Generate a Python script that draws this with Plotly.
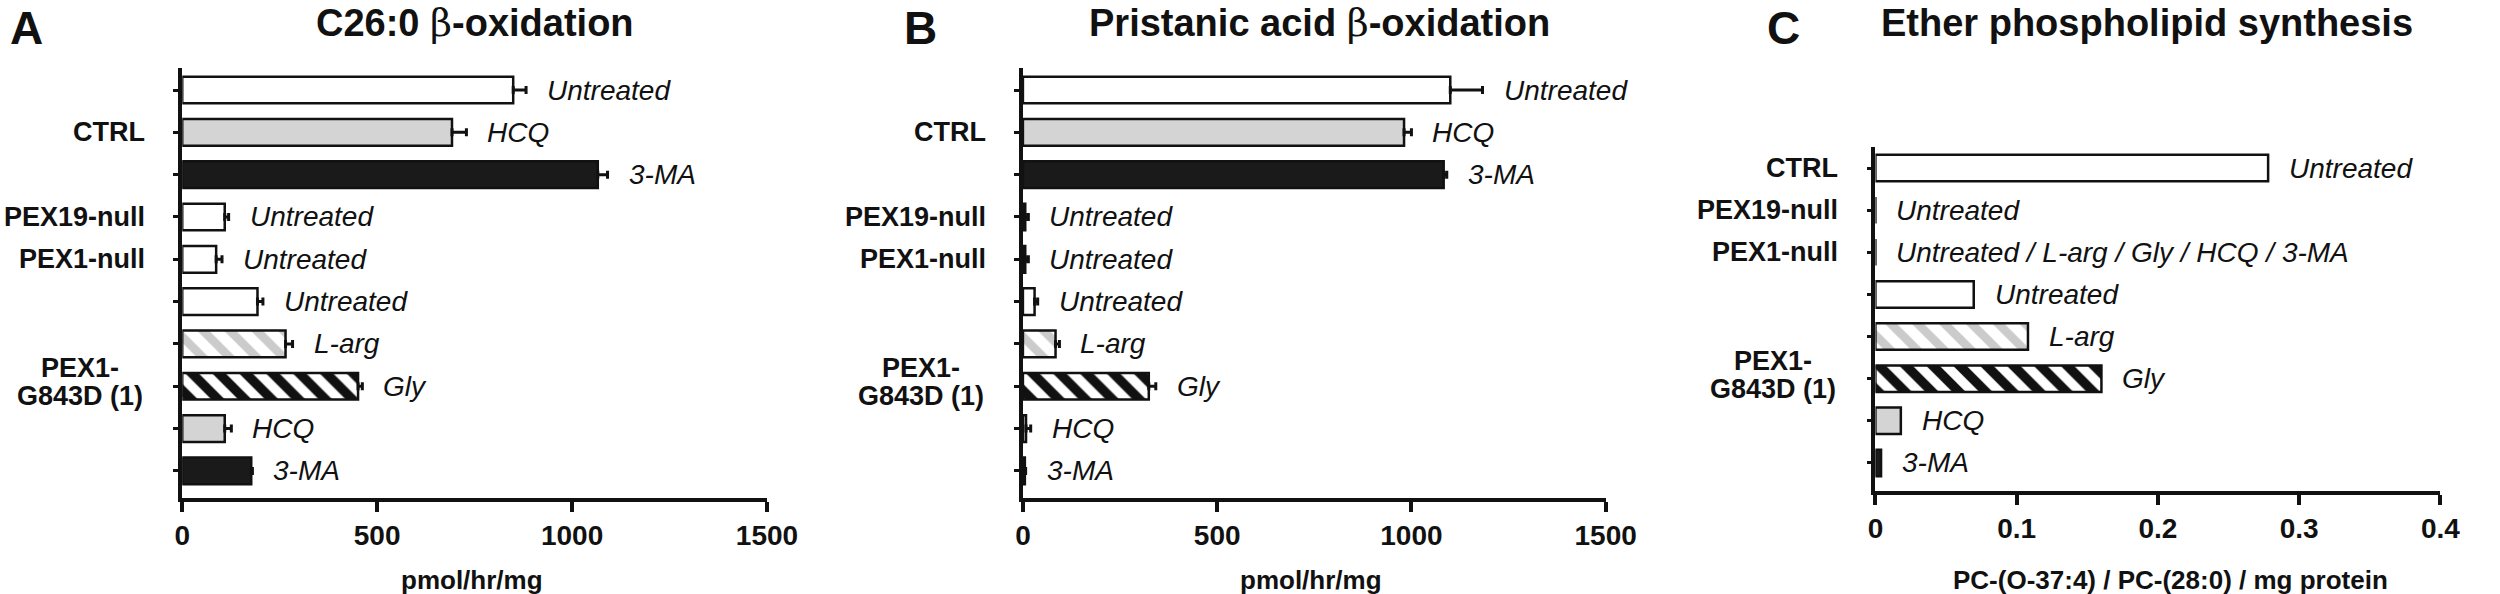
import plotly.graph_objects as go

# ---------------- data ----------------
groups_AB = ["CTRL", "CTRL", "CTRL", "PEX19-null", "PEX1-null",
             "PEX1-G843D (1)", "PEX1-G843D (1)", "PEX1-G843D (1)", "PEX1-G843D (1)", "PEX1-G843D (1)"]
treatments_AB = ["Untreated", "HCQ", "3-MA", "Untreated", "Untreated",
                 "Untreated", "L-arg", "Gly", "HCQ", "3-MA"]
c26_values = [849, 692, 1066, 109, 87, 193, 265, 451, 109, 177]
c26_errors = [33, 37, 25, 10, 15, 14, 18, 11, 17, 3]
pristanic_values = [1100, 981, 1083, 6, 6, 30, 84, 324, 8, 5]
pristanic_errors = [83, 19, 8, 8, 8, 8, 10, 18, 12, 2]

groups_C = ["CTRL", "PEX19-null", "PEX1-null",
            "PEX1-G843D (1)", "PEX1-G843D (1)", "PEX1-G843D (1)", "PEX1-G843D (1)", "PEX1-G843D (1)"]
treatments_C = ["Untreated", "Untreated", "Untreated / L-arg / Gly / HCQ / 3-MA",
                "Untreated", "L-arg", "Gly", "HCQ", "3-MA"]
ether_values = [0.278, 0, 0, 0.0696, 0.108, 0.160, 0.018, 0.004]

ticks_AB = [0, 500, 1000, 1500]
ticklabels_AB = ["0", "500", "1000", "1500"]
ticks_C = [0, 0.1, 0.2, 0.3, 0.4]
ticklabels_C = ["0", "0.1", "0.2", "0.3", "0.4"]

titles = ["C26:0 β-oxidation", "Pristanic acid β-oxidation", "Ether phospholipid synthesis"]
panel_letters = ["A", "B", "C"]
axis_titles = ["pmol/hr/mg", "pmol/hr/mg", "PC-(O-37:4) / PC-(28:0) / mg protein"]
group_label_lines = {"PEX1-G843D (1)": ["PEX1-", "G843D (1)"]}

# ---------------- styles ----------------
W, H = 2500, 594
FONT = "Liberation Sans, Arial, Helvetica, sans-serif"
BLACK = "#111111"
GRAY = "#d4d4d4"
LIGHT_STRIPE = "#cbcbcb"

style = {  # treatment -> (fill, pattern shape, pattern colour, solidity)
    "Untreated": ("white", "", BLACK, 0.3),
    "HCQ": (GRAY, "", BLACK, 0.3),
    "3-MA": ("#1a1a1a", "", BLACK, 0.3),
    "L-arg": ("white", "\\", LIGHT_STRIPE, 0.45),
    "Gly": ("white", "\\", BLACK, 0.5),
}
DEFAULT_STYLE = ("white", "", BLACK, 0.3)

def px_x(p):
    return p / W

def px_y(p):
    return 1 - p / H

panels = [
    dict(groups=groups_AB, treats=treatments_AB, vals=c26_values, errs=c26_errors,
         xr=[0, 1500], ticks=ticks_AB, tl=ticklabels_AB, xdom=(177, 771), ydom=(68, 498),
         yr=[9.64, -0.52], title_x=474, letter_x=0),
    dict(groups=groups_AB, treats=treatments_AB, vals=pristanic_values, errs=pristanic_errors,
         xr=[0, 1500], ticks=ticks_AB, tl=ticklabels_AB, xdom=(1031, 1623), ydom=(68, 498),
         yr=[9.64, -0.52], title_x=1332, letter_x=908),
    dict(groups=groups_C, treats=treatments_C, vals=ether_values, errs=None,
         xr=[0, 0.4], ticks=ticks_C, tl=ticklabels_C, xdom=(1897, 2471), ydom=(147, 491),
         yr=[7.665, -0.5], title_x=2173, letter_x=1785),
]

fig = go.Figure()
annotations = []
shapes = []

for i, p in enumerate(panels):
    n = i + 1
    xa = "x" if n == 1 else f"x{n}"
    ya = "y" if n == 1 else f"y{n}"
    keys = [f"{g} | {t}" for g, t in zip(p["groups"], p["treats"])]

    # one trace per bar style so that the hatch patterns are scalar
    style_names = []
    for t in p["treats"]:
        s = t if t in style else "_default"
        if s not in style_names:
            style_names.append(s)
    for s in style_names:
        fill, shp, fgc, sol = style.get(s, DEFAULT_STYLE)
        sel = [k for k, t in enumerate(p["treats"]) if (t if t in style else "_default") == s]
        err = None
        if p["errs"] is not None:
            err = dict(type="data", array=[p["errs"][k] for k in sel],
                       arrayminus=[0] * len(sel), symmetric=False, color=BLACK,
                       thickness=3, width=4, visible=True)
        marker = dict(color=fill, line=dict(color=BLACK, width=2.5))
        if shp:
            marker["pattern"] = dict(shape=shp, fgcolor=fgc, bgcolor="white",
                                     size=19, solidity=sol, fillmode="replace")
        fig.add_trace(go.Bar(
            x=[p["vals"][k] for k in sel], y=[keys[k] for k in sel], orientation="h",
            xaxis=xa, yaxis=ya, width=0.63, marker=marker, error_x=err,
            showlegend=False, name=s, hoverinfo="x+y",
        ))

    axis_font = dict(family=FONT, size=28, color=BLACK, weight="bold")
    fig.update_layout(**{
        ("xaxis" if n == 1 else f"xaxis{n}"): dict(
            domain=[px_x(p["xdom"][0]), px_x(p["xdom"][1])], anchor=ya,
            range=p["xr"], tickvals=p["ticks"], ticktext=p["tl"], ticks="outside",
            ticklen=10, tickwidth=3.5, tickcolor=BLACK, showline=True, linewidth=3.5,
            linecolor=BLACK, showgrid=False, zeroline=False, tickfont=axis_font,
            fixedrange=True),
        ("yaxis" if n == 1 else f"yaxis{n}"): dict(
            domain=[px_y(p["ydom"][1]), px_y(p["ydom"][0])], anchor=xa,
            type="category", categoryorder="array", categoryarray=keys,
            range=p["yr"], showticklabels=False, ticks="outside", ticklen=5,
            tickwidth=2.5, tickcolor=BLACK, showline=True, linewidth=3.5,
            linecolor=BLACK, showgrid=False, zeroline=False, fixedrange=True),
    })

    # bar labels
    for k, (key, t, v) in enumerate(zip(keys, p["treats"], p["vals"])):
        e = p["errs"][k] if p["errs"] is not None else 0
        annotations.append(dict(
            x=v + e, y=key, xref=xa, yref=ya, text=t, showarrow=False,
            xanchor="left", yanchor="middle", xshift=19,
            font=dict(family=FONT, size=28, color=BLACK, style="italic")))

    # group labels and brackets
    order = []
    for g in p["groups"]:
        if g not in order:
            order.append(g)
    for g in order:
        idx = [k for k, gg in enumerate(p["groups"]) if gg == g]
        mid_key = keys[idx[len(idx) // 2]]
        lines = group_label_lines.get(g)
        if lines:
            for line, ys in zip(lines, [18, -10]):
                annotations.append(dict(
                    x=0, y=mid_key, xref=f"{xa} domain", yref=ya, text=line,
                    showarrow=False, xanchor="center", yanchor="middle",
                    xshift=-102, yshift=ys,
                    font=dict(family=FONT, size=27, color=BLACK, weight="bold")))
        else:
            annotations.append(dict(
                x=0, y=mid_key, xref=f"{xa} domain", yref=ya, text=g,
                showarrow=False, xanchor="right", yanchor="middle", xshift=-35,
                font=dict(family=FONT, size=27, color=BLACK, weight="bold")))
        # bracket (panel C has no bracket for the single CTRL row)
        if i == 2 and g == "CTRL":
            continue
        y0 = idx[0] - 0.44
        y1 = idx[-1] + 0.46
        common = dict(type="line", xref=xa, yref=ya, xsizemode="pixel", xanchor=0,
                      line=dict(color=BLACK, width=2))
        shapes.append(dict(x0=-18, x1=-18, y0=y0, y1=y1, **common))
        shapes.append(dict(x0=-18, x1=-8, y0=y0, y1=y0, **common))
        shapes.append(dict(x0=-18, x1=-8, y0=y1, y1=y1, **common))

    # titles
    beta_title = titles[i].replace(
        "β", '<span style="font-family:DejaVu Serif;font-weight:normal">β</span>')
    annotations.append(dict(
        x=px_x(p["title_x"]), y=px_y(23), xref="paper", yref="paper", text=beta_title,
        showarrow=False, xanchor="center", yanchor="middle",
        font=dict(family=FONT, size=38, color=BLACK, weight="bold")))
    annotations.append(dict(
        x=px_x(p["letter_x"]), y=1, xref="paper", yref="paper",
        text=panel_letters[i], showarrow=False, xanchor="left", yanchor="top",
        font=dict(family=FONT, size=46, color=BLACK, weight="bold")))
    # axis titles
    annotations.append(dict(
        x=0.5, y=px_y(580), xref=f"{xa} domain", yref="paper", text=axis_titles[i],
        showarrow=False, xanchor="center", yanchor="middle",
        xshift=(13 if i == 2 else -3),
        font=dict(family=FONT, size=26, color=BLACK, weight="bold")))

fig.update_layout(
    width=W, height=H, margin=dict(l=0, r=0, t=0, b=0),
    paper_bgcolor="white", plot_bgcolor="white",
    annotations=annotations, shapes=shapes, barmode="overlay",
    font=dict(family=FONT, color=BLACK),
)

fig.write_html(
    "out.html",
    config={"displayModeBar": False},
    post_script="document.body.style.margin='0px';document.body.style.padding='0px';"
                "document.body.style.overflow='hidden';",
)
